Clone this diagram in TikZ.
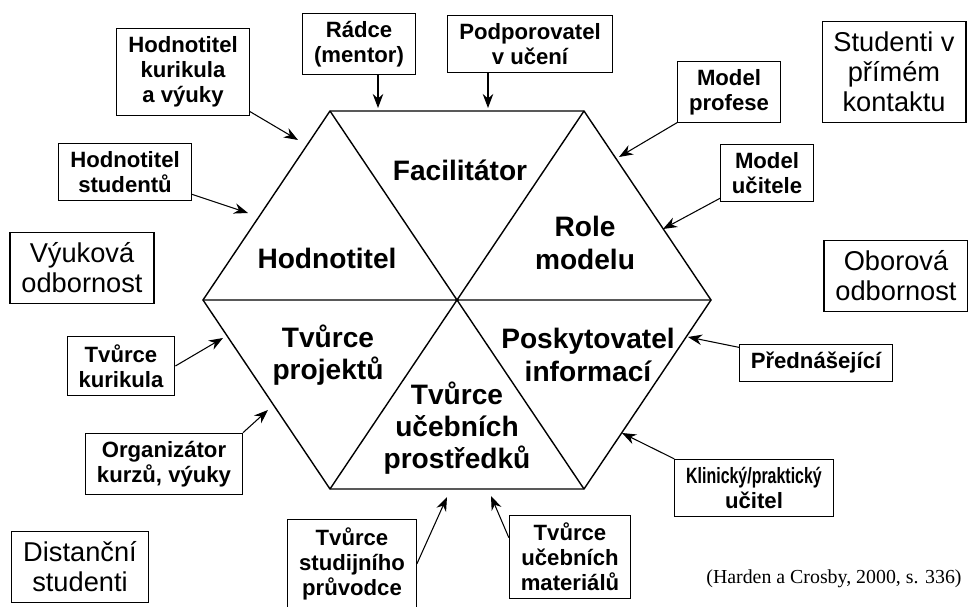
\documentclass[tikz,border=0pt]{standalone}
\usepackage{graphicx}
\usepackage{fontspec}
\setmainfont{Liberation Sans}
\newfontfamily\citefont{Liberation Serif}
\usetikzlibrary{arrows.meta}

\begin{document}
\begin{tikzpicture}[x=0.02cm,y=-0.02cm,
    box/.style={draw,line width=0.6pt,align=center,inner xsep=6.5pt,inner ysep=4.5pt,font=\fontsize{12.6}{14.2}\selectfont\bfseries},
    group/.style={draw,line width=0.6pt,align=center,inner xsep=6.5pt,inner ysep=6pt,font=\fontsize{15.5}{17}\selectfont},
    role/.style={align=center,font=\fontsize{16}{18.3}\selectfont\bfseries},
    arr/.style={-{Stealth[length=8pt,width=6pt]},line width=0.6pt}]
        \useasboundingbox (0,0) rectangle (968,607);
        \coordinate (c) at (457,300);
        \coordinate (v1) at (711,300);
        \coordinate (v2) at (584,111);
        \coordinate (v3) at (330,111);
        \coordinate (v4) at (203,300);
        \coordinate (v5) at (330,489);
        \coordinate (v6) at (584,489);
        \draw[line width=0.8pt] (v1) -- (v2) -- (v3) -- (v4) -- (v5) -- (v6) -- cycle;
        \draw[line width=0.8pt] (v1) -- (v4) (v2) -- (v5) (v3) -- (v6);
        \node[role] (fac) at (460,170) {Facilitátor};
        \node[role] (hod) at (327,258) {Hodnotitel};
        \node[role] (rm) at (585,243) {Role\\modelu};
        \node[role] (tp) at (328,355) {Tvůrce\\projektů};
        \node[role] (pi) at (588,355) {Poskytovatel\\informací};
        \node[role] (tup) at (457,428) {Tvůrce\\učebních\\prostředků};
        \node[box] (hkv) at (183,72) {Hodnotitel\\kurikula\\a výuky};
        \node[box] (rad) at (359,44) {Rádce\\(mentor)};
        \node[box] (pod) at (530,44) {Podporovatel\\v učení};
        \node[box] (mpr) at (729,92) {Model\\profese};
        \node[box] (muc) at (767,173) {Model\\učitele};
        \node[box] (hst) at (125,172) {Hodnotitel\\studentů};
        \node[box] (tku) at (121,366) {Tvůrce\\kurikula};
        \node[box] (org) at (164,464) {Organizátor\\kurzů, výuky};
        \node[box] (tsp) at (352,564) {Tvůrce\\studijního\\průvodce};
        \node[box] (tum) at (570,557) {Tvůrce\\učebních\\materiálů};
        \node[box] (kli) at (754,488) {\scalebox{0.72}[1]{Klinický/praktický}\\učitel};
        \node[box] (pre) at (816,363) {Přednášející};
        \node[group] (spk) at (894,72) {Studenti v\\přímém\\kontaktu};
        \node[group] (vyo) at (82,268) {Výuková\\odbornost};
        \node[group] (obo) at (896,276) {Oborová\\odbornost};
        \node[group] (dst) at (80,567) {Distanční\\studenti};
        \node[font=\citefont\fontsize{11.3}{13}\selectfont] (src) at (834,579) {(Harden a Crosby, 2000, s. 336)};
        \coordinate (hkv-h) at (298,140);
        \coordinate (hst-h) at (248,213);
        \coordinate (rad-h) at (378,108);
        \coordinate (pod-h) at (488,108);
        \coordinate (mpr-h) at (619,157);
        \coordinate (muc-h) at (663,229);
        \coordinate (tku-h) at (223,338);
        \coordinate (org-h) at (268,410);
        \coordinate (tsp-h) at (447,497);
        \coordinate (tum-h) at (491,496);
        \coordinate (kli-h) at (622,433);
        \coordinate (pre-h) at (688,337);
        \draw[arr] (hkv) -- (hkv-h);
        \draw[arr] (hst) -- (hst-h);
        \draw[arr] (rad.south -| rad-h) -- (rad-h);
        \draw[arr] (pod.south -| pod-h) -- (pod-h);
        \draw[arr] (mpr) -- (mpr-h);
        \draw[arr] (muc) -- (muc-h);
        \draw[arr] (tku.east) -- (tku-h);
        \draw[arr] (org.north east) -- (org-h);
        \draw[arr] (tsp.east) -- (tsp-h);
        \draw[arr] ([yshift=11pt]tum.west) -- (tum-h);
        \draw[arr] (kli.north west) -- (kli-h);
        \draw[arr] (pre) -- (pre-h);
    \end{tikzpicture}
\end{document}
